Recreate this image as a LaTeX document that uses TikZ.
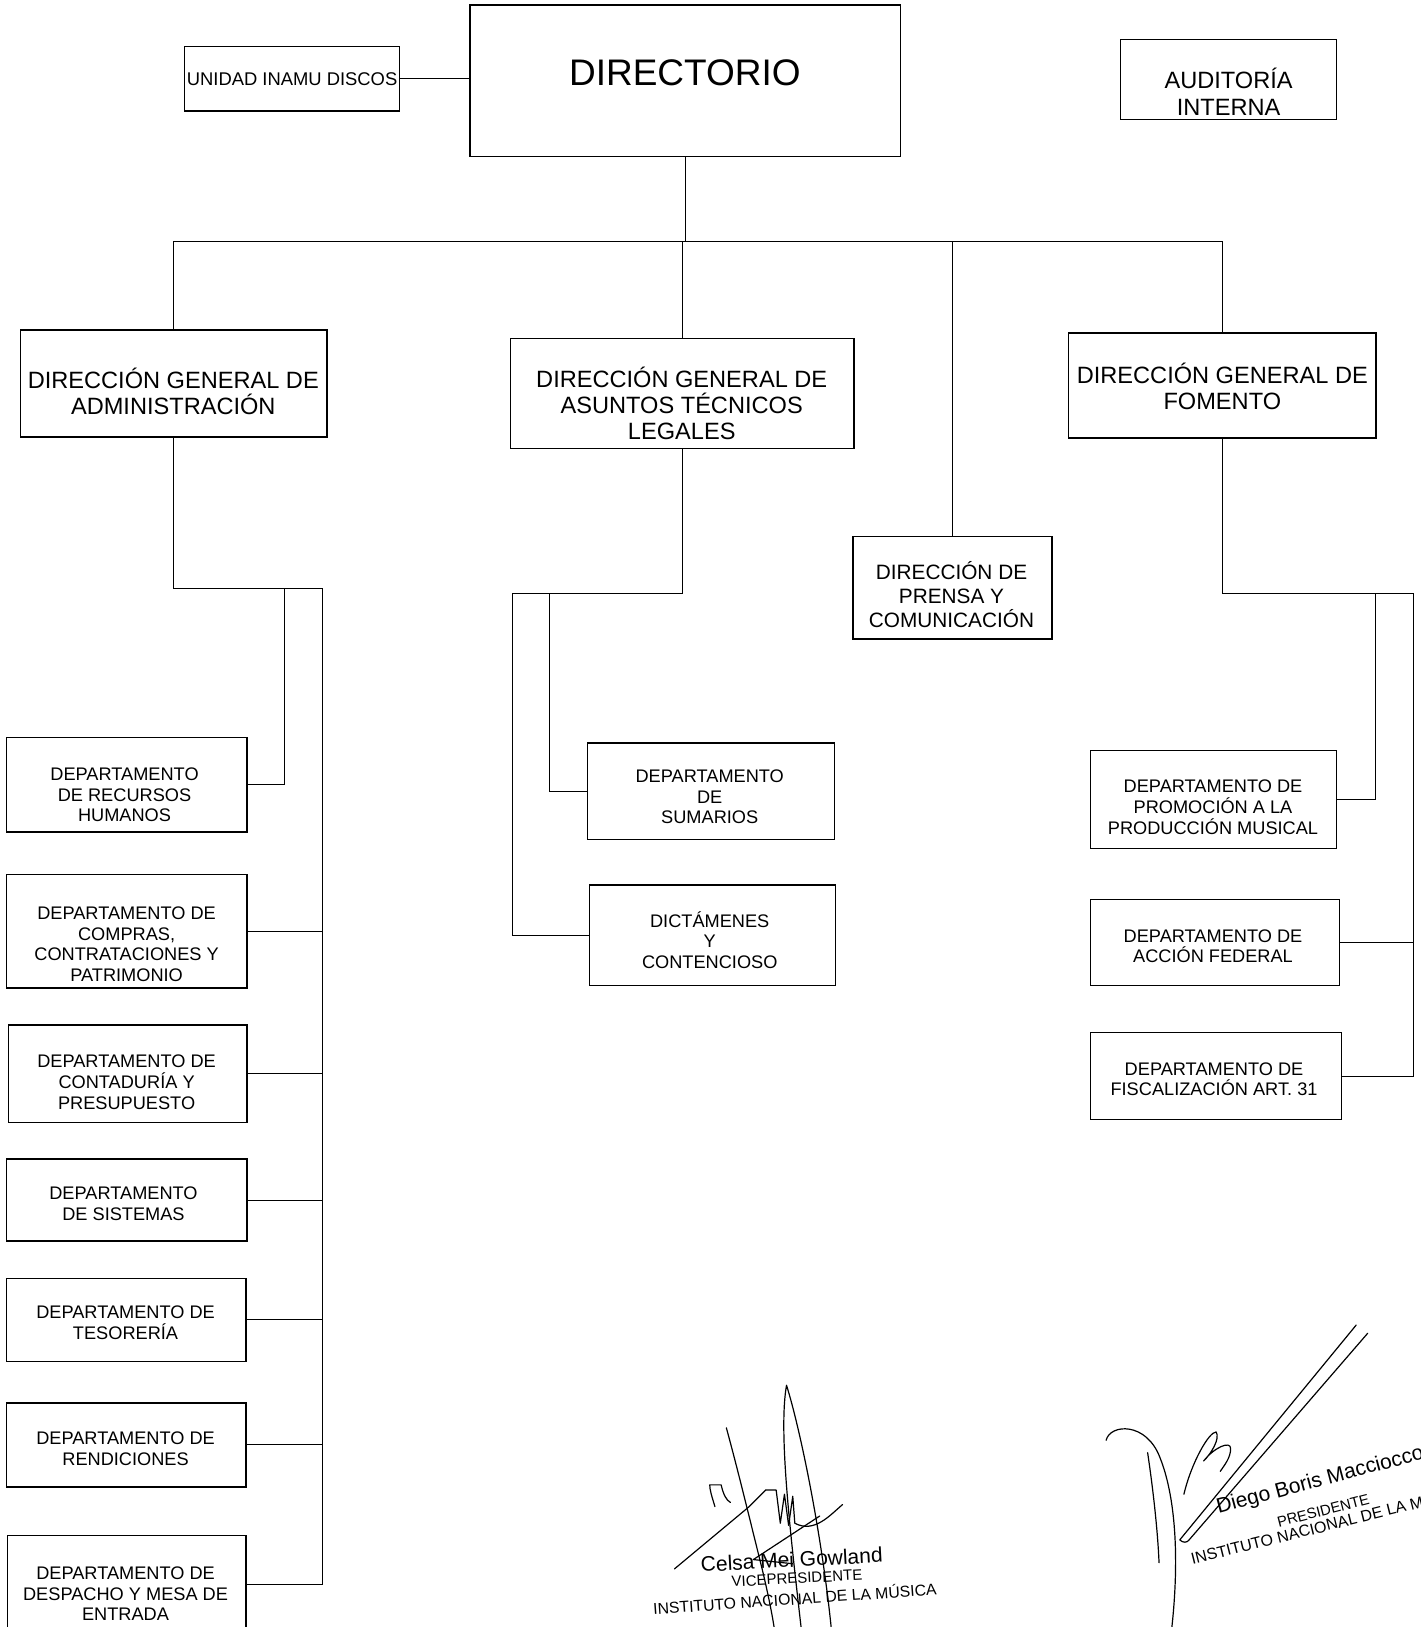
\documentclass[tikz,border=0pt]{standalone}
\usepackage{fontspec}
\setmainfont{Liberation Sans}
\def\pxu{0.519pt}
\tikzset{
  box/.style={draw, line width=0.7pt, inner sep=0pt},
  sz/.style 2 args={minimum width=#1*\pxu, minimum height=#2*\pxu},
  dgtext/.style={font=\fontsize{11.8}{13}\selectfont, align=center, inner sep=0pt},
  prtext/.style={font=\fontsize{10.4}{12.2}\selectfont, align=center, inner sep=0pt},
  deptext/.style={font=\fontsize{9.1}{10.4}\selectfont, align=center, inner sep=0pt},
  conn/.style={line width=0.5pt},
  sig/.style={line width=0.6pt, line cap=round, line join=round},
}
\begin{document}
\begin{tikzpicture}[x=0.519pt, y=-0.519pt]
\useasboundingbox (0,0) rectangle (1369,1568);
\clip (0,0) rectangle (1369,1568);

% ---- boxes
\node[box, sz={415}{146}] (dir) at (660.5,78) {};
\node[box, sz={207}{62}] (uni) at (281.5,76) {};
\node[box, sz={208}{77}] (aud) at (1184,76.5) {};
\node[box, sz={295}{103}] (dga) at (167.5,369.5) {};
\node[box, sz={331}{106}] (dgat) at (657.5,379) {};
\node[box, sz={296}{101}] (dgf) at (1178,371.5) {};
\node[box, sz={192}{99}] (prensa) at (918,566.5) {};
\node[box, sz={232}{91}] (rh) at (122,756.5) {};
\node[box, sz={232}{109}] (comp) at (122,897.5) {};
\node[box, sz={230}{94}] (cont) at (123,1035) {};
\node[box, sz={232}{79}] (sist) at (122,1156.5) {};
\node[box, sz={231}{80}] (teso) at (121.5,1272) {};
\node[box, sz={231}{81}] (rend) at (121.5,1392.5) {};
\node[box, sz={230}{95}] (desp) at (122,1527.5) {};
\node[box, sz={238}{93}] (sum) at (685,762.5) {};
\node[box, sz={237}{97}] (dict) at (686.5,901.5) {};
\node[box, sz={237}{95}] (prom) at (1169.5,770.5) {};
\node[box, sz={240}{83}] (acc) at (1171,908.5) {};
\node[box, sz={242}{84}] (fisc) at (1172,1037) {};

% ---- texts
\node[font=\fontsize{18.5}{20}\selectfont, inner sep=0pt] (dirt) at (660,70) {DIRECTORIO};
\node[font=\fontsize{9.2}{10}\selectfont, inner sep=0pt] (unit) at (281.5,76) {UNIDAD INAMU DISCOS};
\node[font=\fontsize{11.8}{13.5}\selectfont, align=center, inner sep=0pt] (audt) at (1184,88) {AUDITORÍA\\INTERNA};
\node[dgtext] (dgat1) at (167,377) {DIRECCIÓN GENERAL DE\\ADMINISTRACIÓN};
\node[dgtext] (dgatt) at (657,389) {DIRECCIÓN GENERAL DE\\ASUNTOS TÉCNICOS\\LEGALES};
\node[dgtext] (dgft) at (1178,372) {DIRECCIÓN GENERAL DE\\FOMENTO};
\node[prtext] (prt) at (917,573) {DIRECCIÓN DE\\PRENSA Y\\COMUNICACIÓN};
\node[deptext] (rht) at (120,766) {DEPARTAMENTO\\DE RECURSOS\\HUMANOS};
\node[deptext] (compt) at (122,910) {DEPARTAMENTO DE\\COMPRAS,\\CONTRATACIONES Y\\PATRIMONIO};
\node[deptext] (contt) at (122,1043) {DEPARTAMENTO DE\\CONTADURÍA Y\\PRESUPUESTO};
\node[deptext] (sistt) at (119,1160) {DEPARTAMENTO\\DE SISTEMAS};
\node[deptext] (tesot) at (121,1275) {DEPARTAMENTO DE\\TESORERÍA};
\node[deptext] (rendt) at (121,1396) {DEPARTAMENTO DE\\RENDICIONES};
\node[deptext] (despt) at (121,1536) {DEPARTAMENTO DE\\DESPACHO Y MESA DE\\ENTRADA};
\node[deptext] (sumt) at (684,768) {DEPARTAMENTO\\DE\\SUMARIOS};
\node[deptext] (dictt) at (684,906) {DICTÁMENES\\Y\\CONTENCIOSO};
\node[deptext] (promt) at (1169,778) {DEPARTAMENTO DE\\PROMOCIÓN A LA\\PRODUCCIÓN MUSICAL};
\node[deptext] (acct) at (1169,912) {DEPARTAMENTO DE\\ACCIÓN FEDERAL};
\node[deptext] (fisct) at (1170,1040) {DEPARTAMENTO DE\\FISCALIZACIÓN ART. 31};

% ---- connectors
\coordinate (bus) at (0,233);
\coordinate (abus) at (311,567);
\coordinate (rhj) at (274,567);
\coordinate (lbus) at (494,572);
\coordinate (lj) at (530,572);
\coordinate (fbus) at (1362,572);
\coordinate (fj) at (1326,572);

\draw[conn] (uni.east) -- (dir.west |- uni.east);
\draw[conn] (dir.south) -- (dir.south |- bus);
\draw[conn] (dga.north) -- (dga.north |- bus) -- (dgf.north |- bus) -- (dgf.north);
\draw[conn] (dgat.north) -- (dgat.north |- bus);
\draw[conn] (prensa.north) -- (prensa.north |- bus);

\draw[conn] (dga.south) |- (abus) -- (abus |- desp.east) -- (desp.east);
\draw[conn] (rh.east) -| (rhj);
\draw[conn] (comp.east) -- (comp.east -| abus);
\draw[conn] (cont.east) -- (cont.east -| abus);
\draw[conn] (sist.east) -- (sist.east -| abus);
\draw[conn] (teso.east) -- (teso.east -| abus);
\draw[conn] (rend.east) -- (rend.east -| abus);

\draw[conn] (dgat.south) |- (lbus) -- (lbus |- dict.west) -- (dict.west);
\draw[conn] (sum.west) -| (lj);

\draw[conn] (dgf.south) |- (fbus) -- (fbus |- fisc.east) -- (fisc.east);
\draw[conn] (acc.east) -- (acc.east -| fbus);
\draw[conn] (prom.east) -| (fj);

% ---- signature 1
\draw[sig] (650,1512) -- (722,1452) -- (738,1436);
\draw[sig] (700,1376) .. controls (712,1420) and (724,1470) .. (734,1510) .. controls (740,1535) and (744,1555) .. (746,1568);
\draw[sig] (772,1568) .. controls (762,1480) and (750,1380) .. (758,1335) .. controls (772,1380) and (792,1480) .. (801,1568);
\draw[sig] (689,1452) .. controls (686,1442) and (684,1436) .. (684,1431) -- (695,1431) .. controls (697,1440) and (700,1446) .. (704,1448);
\draw[sig] (738,1436) -- (748,1436) -- (752,1468) -- (756,1440) -- (760,1470) -- (764,1442) -- (766,1468) .. controls (785,1478) and (800,1460) .. (812,1450);
\draw[sig] (790,1461) -- (726,1503) -- (764,1507);
\node[font=\fontsize{10.5}{11}\selectfont, rotate=3, inner sep=0pt] (celsa) at (763,1503) {Celsa Mei Gowland};
\node[font=\fontsize{7.5}{8}\selectfont, rotate=3, inner sep=0pt] (vice) at (768,1521) {VICEPRESIDENTE};
\node[font=\fontsize{7.9}{8}\selectfont, rotate=4, inner sep=0pt] (inst1) at (766,1540) {INSTITUTO NACIONAL DE LA MÚSICA};

% ---- signature 2
\draw[sig] (1066,1388) .. controls (1070,1372) and (1105,1370) .. (1118,1405) .. controls (1132,1440) and (1138,1500) .. (1128,1580);
\draw[sig] (1106,1400) .. controls (1112,1440) and (1116,1480) .. (1117,1506);
\draw[sig] (1141,1440) .. controls (1148,1410) and (1165,1380) .. (1172,1380) .. controls (1176,1386) and (1168,1400) .. (1160,1408) .. controls (1170,1395) and (1186,1388) .. (1186,1396) .. controls (1186,1405) and (1180,1412) .. (1176,1418);
\draw[sig] (1307,1277) -- (1137,1484) .. controls (1140,1487) and (1144,1487) .. (1146,1484) -- (1318,1285);
\node[font=\fontsize{10.5}{11}\selectfont, rotate=15, inner sep=0pt, anchor=base west] (diego) at (1174,1459) {Diego Boris Macciocco};
\node[font=\fontsize{7.4}{8}\selectfont, rotate=14.5, inner sep=0pt, anchor=base west] (pres) at (1232,1472) {PRESIDENTE};
\node[font=\fontsize{8}{8}\selectfont, rotate=14, inner sep=0pt, anchor=base west] (inst2) at (1149,1508) {INSTITUTO NACIONAL DE LA MÚSICA};
\end{tikzpicture}
\end{document}
